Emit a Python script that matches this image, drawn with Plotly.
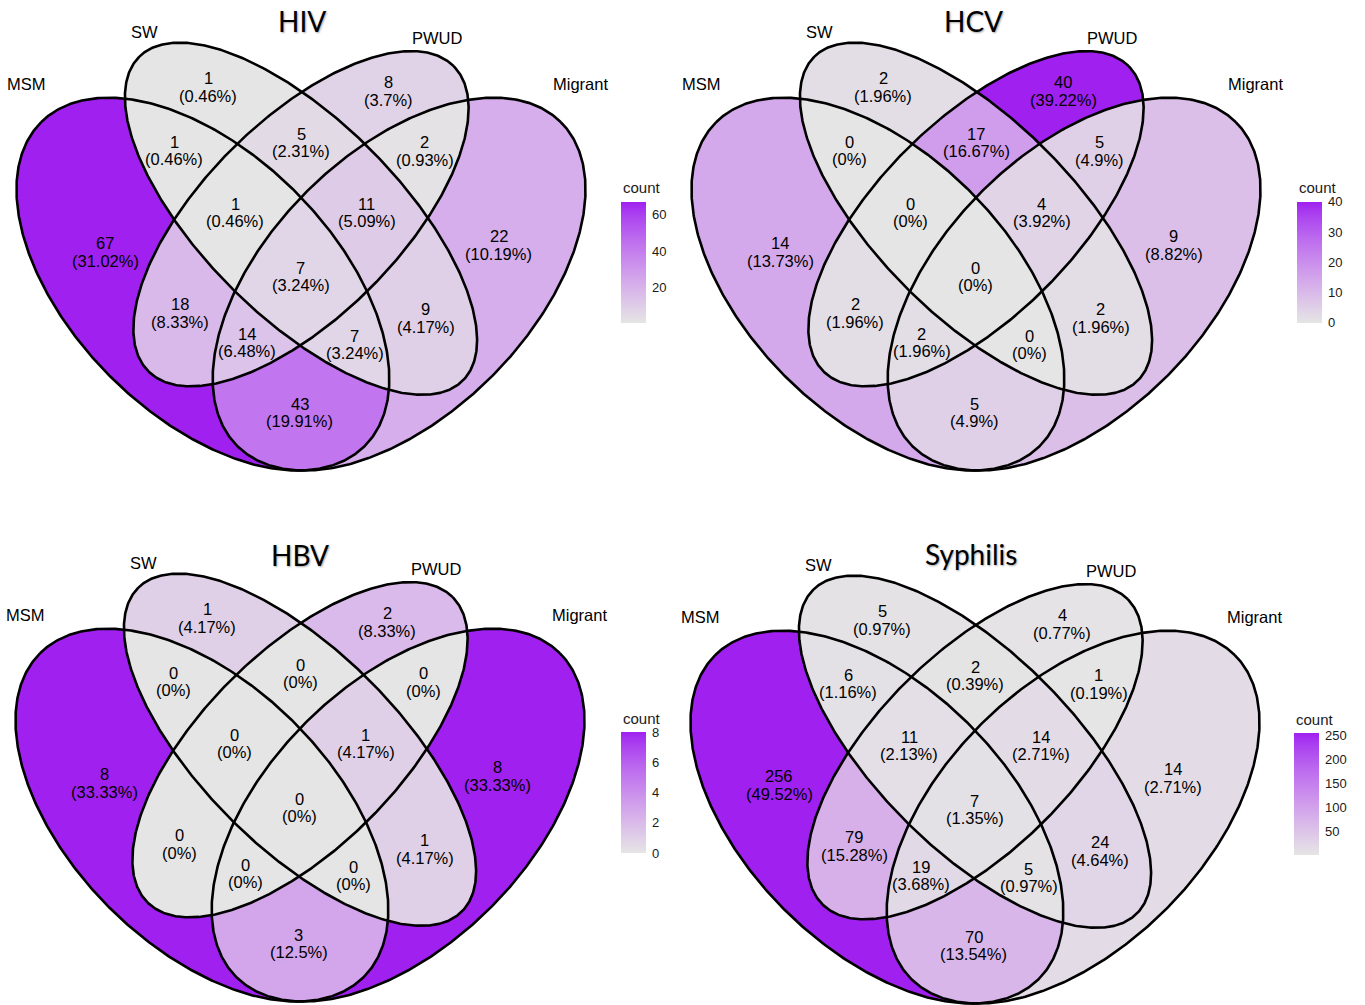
import numpy as np
import plotly.graph_objects as go

# ---------------------------------------------------------------- data
set_names = ["MSM", "SW", "PWUD", "Migrant"]
region_sets = [
    "MSM", "SW", "PWUD", "Migrant",
    "MSM&SW", "SW&PWUD", "PWUD&Migrant", "MSM&PWUD", "SW&Migrant", "MSM&Migrant",
    "MSM&SW&PWUD", "SW&PWUD&Migrant", "MSM&PWUD&Migrant", "MSM&SW&Migrant",
    "MSM&SW&PWUD&Migrant",
]
panel_titles = ["HIV", "HCV", "HBV", "Syphilis"]
hiv_counts = [67, 1, 8, 22, 1, 5, 2, 18, 9, 43, 1, 11, 14, 7, 7]
hcv_counts = [14, 2, 40, 9, 0, 17, 5, 2, 2, 5, 0, 4, 2, 0, 0]
hbv_counts = [8, 1, 2, 8, 0, 0, 0, 0, 1, 3, 0, 1, 0, 0, 0]
syphilis_counts = [256, 5, 4, 14, 6, 2, 1, 79, 24, 70, 11, 14, 19, 5, 7]
colorbar_dticks = [20, 10, 2, 50]

panel_counts = [hiv_counts, hcv_counts, hbv_counts, syphilis_counts]

# ---------------------------------------------------------------- geometry
# four-ellipse Venn layout: centre x, centre y, semi-major, semi-minor, angle (deg)
ELLIPSES = [
    (0.35, 0.47, 0.35, 0.20, 135),
    (0.50, 0.57, 0.35, 0.15, 135),
    (0.50, 0.57, 0.33, 0.15, 45),
    (0.65, 0.47, 0.35, 0.20, 45),
]
SET_LABEL_POS = [(0.081, 0.776), (0.2605, 0.8555), (0.7085, 0.846), (0.928, 0.776)]

W, H = 1365, 1005
S = 654.0  # pixels per venn unit
ORIGINS = [(301, 264.5), (976, 264.5), (300, 795.5), (975, 797.5)]   # pixel of (0.5, 0.5)
TITLE_POS = [(302, 21), (973, 21), (300, 555), (971, 554)]
CBAR_POS = [(621, 201.7, 121), (1297, 201.7, 121), (620.7, 732, 121), (1294, 733, 122)]
X_RANGE = (0.055, 0.945)
Y_RANGE = (0.18, 0.87)

LABEL_FONT = "Liberation Sans, Arial, sans-serif"
TITLE_FONT = "Lato, Open Sans, sans-serif"


def inside(ell, X, Y):
    cx, cy, a, b, ang = ell
    t = np.deg2rad(ang)
    dx, dy = X - cx, Y - cy
    xr = dx * np.cos(t) + dy * np.sin(t)
    yr = -dx * np.sin(t) + dy * np.cos(t)
    return (xr / a) ** 2 + (yr / b) ** 2 <= 1.0


def outline(ell, n=600):
    cx, cy, a, b, ang = ell
    t = np.deg2rad(ang)
    s = np.linspace(0, 2 * np.pi, n)
    x = cx + a * np.cos(s) * np.cos(t) - b * np.sin(s) * np.sin(t)
    y = cy + a * np.cos(s) * np.sin(t) + b * np.sin(s) * np.cos(t)
    return x, y


# ---------------------------------------------------------------- colours
def srgb_to_lab(rgb):
    c = np.asarray(rgb, float) / 255.0
    lin = np.where(c <= 0.04045, c / 12.92, ((c + 0.055) / 1.055) ** 2.4)
    M = np.array([[0.4124564, 0.3575761, 0.1804375],
                  [0.2126729, 0.7151522, 0.0721750],
                  [0.0193339, 0.1191920, 0.9503041]])
    xyz = M @ lin / np.array([0.95047, 1.0, 1.08883])
    d = 6 / 29
    f = np.where(xyz > d ** 3, np.cbrt(xyz), xyz / (3 * d * d) + 4 / 29)
    return np.array([116 * f[1] - 16, 500 * (f[0] - f[1]), 200 * (f[1] - f[2])])


def lab_to_srgb(lab):
    L, a, b = lab
    fy = (L + 16) / 116
    fx = fy + a / 500
    fz = fy - b / 200
    d = 6 / 29
    f = np.array([fx, fy, fz])
    xyz = np.where(f > d, f ** 3, 3 * d * d * (f - 4 / 29)) * np.array([0.95047, 1.0, 1.08883])
    Minv = np.array([[3.2404542, -1.5371385, -0.4985314],
                     [-0.9692660, 1.8760108, 0.0415560],
                     [0.0556434, -0.2040259, 1.0572252]])
    lin = np.clip(Minv @ xyz, 0, 1)
    c = np.where(lin <= 0.0031308, 12.92 * lin, 1.055 * lin ** (1 / 2.4) - 0.055)
    return tuple(int(round(v)) for v in np.clip(c, 0, 1) * 255)


LOW, HIGH = (229, 229, 229), (160, 32, 240)   # grey90 -> purple
lab_lo, lab_hi = srgb_to_lab(LOW), srgb_to_lab(HIGH)
COLORSCALE = []
for f in np.linspace(0, 1, 31):
    r, g, b = lab_to_srgb(lab_lo + (lab_hi - lab_lo) * f)
    COLORSCALE.append([float(f), f"rgb({r},{g},{b})"])


def fmt_pct(c, total):
    s = f"{round(100 * c / total, 2):.2f}".rstrip("0").rstrip(".")
    return f"({s}%)"


# ---------------------------------------------------------------- grid
step = 1.0 / S
xs = np.arange(0.06, 0.94, step)
ys = np.arange(0.18, 0.845, step)
GX, GY = np.meshgrid(xs, ys)
code = np.zeros(GX.shape, dtype=int)
for i, ell in enumerate(ELLIPSES):
    code |= inside(ell, GX, GY).astype(int) << i

region_codes = []
for name in region_sets:
    parts = name.split("&")
    region_codes.append(sum(1 << set_names.index(p) for p in parts))

centroids = []
for rc in region_codes:
    m = code == rc
    centroids.append((float(GX[m].mean()), float(GY[m].mean())))

# ---------------------------------------------------------------- figure
fig = go.Figure()
annotations = []
layout = dict(
    width=W, height=H, margin=dict(l=0, r=0, t=0, b=0),
    paper_bgcolor="white", plot_bgcolor="rgba(0,0,0,0)", showlegend=False,
)

for p in range(4):
    k = p + 1
    ax = "" if k == 1 else str(k)
    xref, yref = f"x{ax}", f"y{ax}"
    ox, oy = ORIGINS[p]
    counts = panel_counts[p]
    total = sum(counts)

    px0 = max(ox + (X_RANGE[0] - 0.5) * S, 0)
    px1 = min(ox + (X_RANGE[1] - 0.5) * S, W)
    py_top = max(oy - (Y_RANGE[1] - 0.5) * S, 0)
    py_bot = min(oy - (Y_RANGE[0] - 0.5) * S, H)
    xr = [0.5 + (px0 - ox) / S, 0.5 + (px1 - ox) / S]
    yr = [0.5 - (py_bot - oy) / S, 0.5 - (py_top - oy) / S]
    layout[f"xaxis{ax}"] = dict(domain=[px0 / W, px1 / W], range=xr,
                                visible=False, fixedrange=True, anchor=yref)
    layout[f"yaxis{ax}"] = dict(domain=[1 - py_bot / H, 1 - py_top / H], range=yr,
                                visible=False, fixedrange=True, anchor=xref)

    # region fills coloured by count
    lookup = np.full(16, np.nan)
    for rc, c in zip(region_codes, counts):
        lookup[rc] = c
    Z = lookup[code].astype(np.float32)
    Z[code == 0] = np.nan
    fig.add_trace(go.Heatmap(x=xs, y=ys, z=Z, coloraxis=f"coloraxis{ax}",
                             xaxis=xref, yaxis=yref, hoverinfo="skip"))

    cbx, cby, cblen = CBAR_POS[p]
    layout[f"coloraxis{ax}"] = dict(
        colorscale=COLORSCALE, cmin=min(counts), cmax=max(counts),
        colorbar=dict(
            x=cbx / W, xanchor="left", y=1 - cby / H, yanchor="top",
            len=cblen, lenmode="pixels", thickness=24.5, thicknessmode="pixels",
            xpad=0, ypad=0, outlinewidth=0,
            tickmode="linear", tick0=0, dtick=colorbar_dticks[p],
            ticks="outside", ticklen=4, tickwidth=1, tickcolor="rgba(0,0,0,0)",
            tickfont=dict(family=LABEL_FONT, size=13, color="#1a1a1a"),
        ),
    )
    annotations.append(dict(
        text="count", xref="paper", yref="paper", x=cbx / W, y=1 - (cby - 14) / H,
        xanchor="left", yanchor="middle", showarrow=False,
        font=dict(family=LABEL_FONT, size=15, color="#1a1a1a")))

    # ellipse outlines
    for ell in ELLIPSES:
        ex, ey = outline(ell)
        fig.add_trace(go.Scatter(x=ex, y=ey, mode="lines", xaxis=xref, yaxis=yref,
                                 line=dict(color="black", width=2.6), hoverinfo="skip"))

    # region labels: count and percentage
    for (cx, cy), c in zip(centroids, counts):
        for txt, shift in ((str(c), 8.75), (fmt_pct(c, total), -8.75)):
            annotations.append(dict(
                text=txt, x=cx, y=cy, xref=xref, yref=yref, yshift=shift,
                xanchor="center", yanchor="middle", showarrow=False,
                font=dict(family=LABEL_FONT, size=16.5, color="black")))

    # set names
    for name, (sx, sy) in zip(set_names, SET_LABEL_POS):
        annotations.append(dict(
            text=name, x=sx, y=sy, xref=xref, yref=yref,
            xanchor="center", yanchor="middle", showarrow=False,
            font=dict(family=LABEL_FONT, size=16.5, color="black")))

    # panel title
    tx, ty = TITLE_POS[p]
    annotations.append(dict(
        text=panel_titles[p], xref="paper", yref="paper", x=tx / W, y=1 - ty / H,
        xanchor="center", yanchor="middle", showarrow=False,
        font=dict(family=TITLE_FONT, size=28, color="black",
                  shadow="1px 1px 2px rgba(0,0,0,0.35)")))

layout["annotations"] = annotations
fig.update_layout(**layout)
fig.write_html("out.html")
